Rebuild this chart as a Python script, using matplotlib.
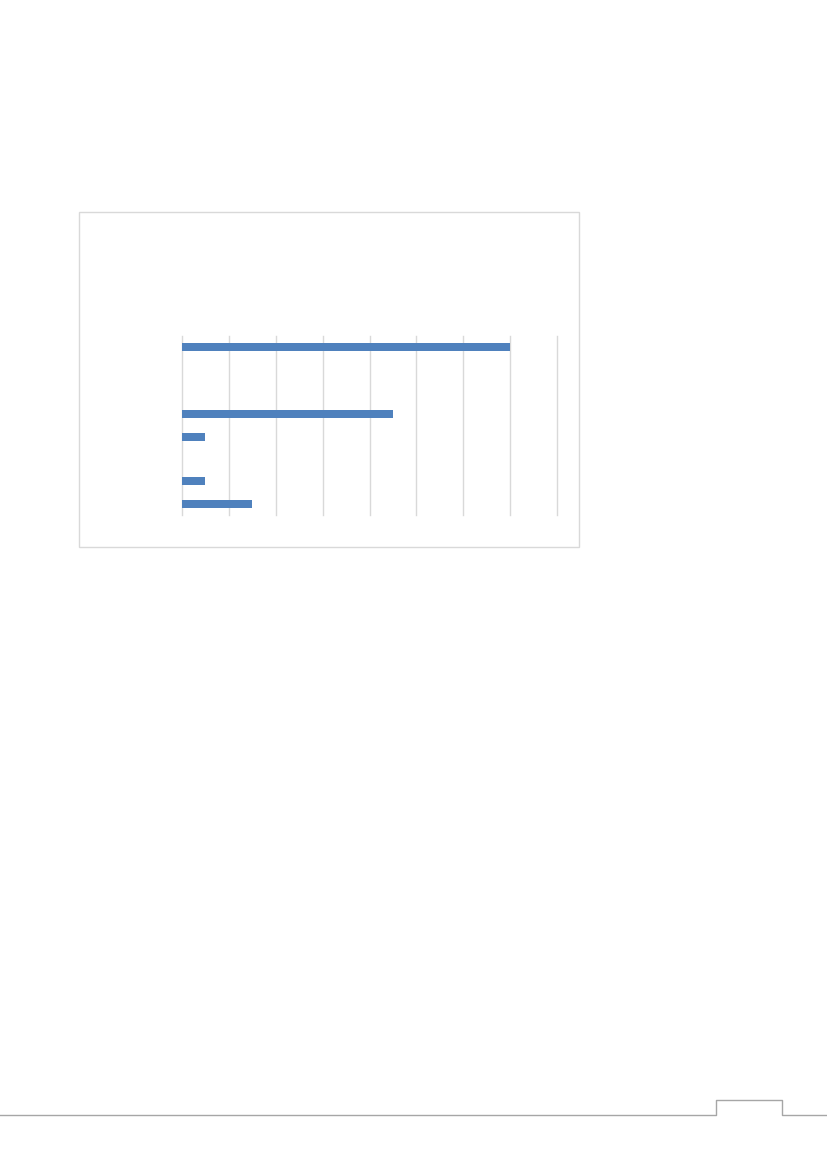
import matplotlib
matplotlib.use("Agg")
import matplotlib.pyplot as plt
from matplotlib.patches import Rectangle
from matplotlib.lines import Line2D

# Data (top to bottom); category labels are not shown in the reference
categories = ["", "", "", "", "", "", "", ""]
values = [14, 0, 0, 9, 1, 0, 1, 3]
x_ticks = [0, 2, 4, 6, 8, 10, 12, 14, 16]

W, H = 827, 1169
fig = plt.figure(figsize=(W / 100, H / 100), dpi=100)
fig.patch.set_facecolor("white")

def fx(x):
    return x / W

def fy(y):
    return 1 - y / H

# chart frame
fig.patches.append(Rectangle((fx(78.5), fy(547)), fx(579) - fx(78.5), fy(212.5) - fy(547),
                             transform=fig.transFigure, fill=False, edgecolor="#D9D9D9", lw=1))

# footer line with notch
fx_pts = [0, 716, 716, 782, 782, 827]
fy_pts = [1115, 1115, 1100, 1100, 1115, 1115]
fig.lines.append(Line2D([fx(p) for p in fx_pts], [fy(p) for p in fy_pts],
                        transform=fig.transFigure, color="#A6A6A6", lw=1))

left, right, top, bottom = 182, 557, 336, 515
ax = fig.add_axes([fx(left), fy(bottom), fx(right) - fx(left), fy(top) - fy(bottom)])
n = len(values)
ypos = list(range(n))
ax.barh(ypos, values, height=0.36, color="#4F81BD", zorder=3)
ax.set_ylim(n - 0.5, -0.5)
ax.set_xlim(x_ticks[0], x_ticks[-1])
ax.set_xticks(x_ticks)
ax.set_yticks(ypos)
ax.set_yticklabels(categories)
ax.tick_params(length=0, labelbottom=False, labelleft=False)
ax.grid(axis="x", color="#D9D9D9", lw=1, zorder=0)
for gl in ax.get_xgridlines():
    gl.set_clip_on(False)
for s in ax.spines.values():
    s.set_visible(False)
ax.set_facecolor("none")

fig.savefig("out.png", dpi=100)
